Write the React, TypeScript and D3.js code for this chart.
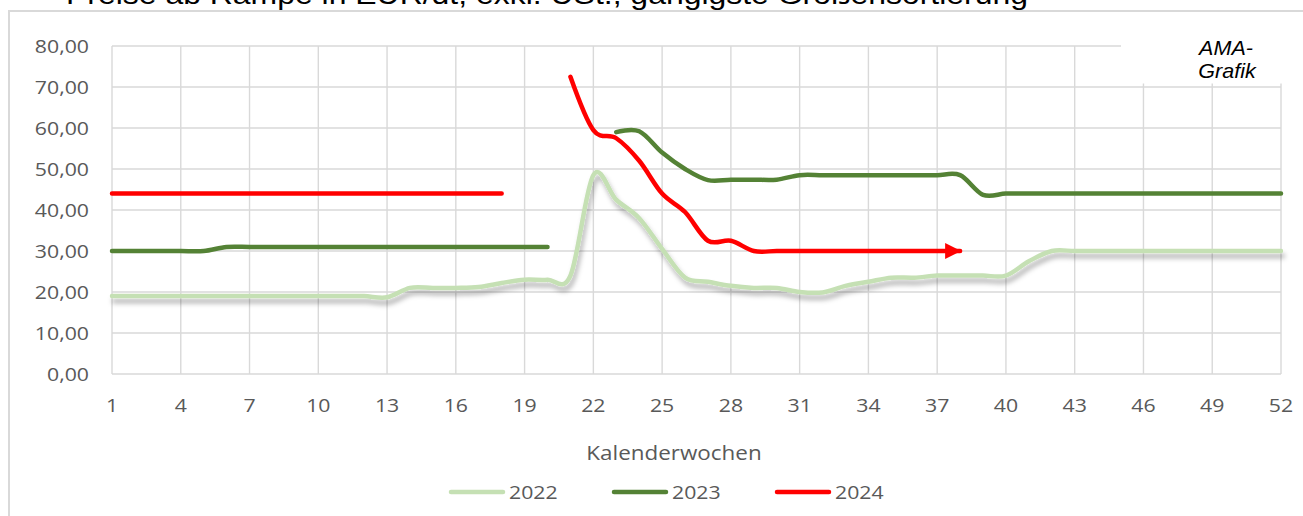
import React from "react";
import * as d3 from "d3";

// Kalenderwochen 1..52
const weeks = Array.from({ length: 52 }, (_, i) => i + 1);

const values2022: (number | null)[] = [
  19, 19, 19, 19, 19, 19, 19, 19, 19, 19, 19, 19, 18.7, 21, 21, 21, 21.2, 22.2,
  23, 23, 24, 48.5, 42.5, 38, 30.5, 23.5, 22.5, 21.5, 21, 21, 20, 19.9, 21.5,
  22.5, 23.5, 23.5, 24, 24, 24, 24, 27.5, 30, 30, 30, 30, 30, 30, 30, 30, 30, 30,
  30,
];

const values2023: (number | null)[] = [
  30, 30, 30, 30, 30, 31, 31, 31, 31, 31, 31, 31, 31, 31, 31, 31, 31, 31, 31, 31,
  null, null, 59, 59.2, 54, 50, 47.3, 47.4, 47.4, 47.4, 48.5, 48.5, 48.5, 48.5,
  48.5, 48.5, 48.5, 48.5, 43.7, 44, 44, 44, 44, 44, 44, 44, 44, 44, 44, 44, 44,
  44,
];

const values2024: (number | null)[] = [
  44, 44, 44, 44, 44, 44, 44, 44, 44, 44, 44, 44, 44, 44, 44, 44, 44, 44, null,
  null, 72.5, 59.5, 57.5, 52, 44, 39.5, 32.5, 32.5, 30, 30, 30, 30, 30, 30, 30,
  30, 30, 30, null, null, null, null, null, null, null, null, null, null, null,
  null, null, null,
];

const seriesNames = ["2022", "2023", "2024"];
const seriesColors = ["#C5E0B4", "#548235", "#FF0000"];
const xTickWeeks = [1, 4, 7, 10, 13, 16, 19, 22, 25, 28, 31, 34, 37, 40, 43, 46, 49, 52];
const yTickValues = [0, 10, 20, 30, 40, 50, 60, 70, 80];

const title = "Preise ab Rampe in EUR/dt, exkl. USt., gängigste Größensortierung";
const xTitle = "Kalenderwochen";

const W = 1303;
const H = 516;
const sx = 1.15; // the source picture is stretched horizontally

const Txt = ({ x, y, anchor = "start", size = 18.5, fill = "#595959", children }: any) => (
  <text
    transform={`translate(${x},${y}) scale(${sx},1)`}
    textAnchor={anchor}
    fontSize={size}
    fontFamily="'Open Sans', sans-serif"
    fill={fill}
  >
    {children}
  </text>
);

export default function App() {
  const x = d3.scaleLinear().domain([1, 52]).range([112, 1281]);
  const y = d3.scaleLinear().domain([0, 80]).range([374, 46]);
  const fmt = d3.formatLocale({ decimal: ",", thousands: ".", grouping: [3], currency: ["", "€"] }).format(".2f");

  const line = d3
    .line<number | null>()
    .defined((d) => d !== null)
    .x((_, i) => x(weeks[i]))
    .y((d) => y(d as number))
    .curve(d3.curveCardinal.tension(0));

  const all = [values2022, values2023, values2024];
  const legendX = [451, 614, 777];

  return (
    <svg width={W} height={H} style={{ position: "absolute", left: 0, top: 0, background: "#fff" }}>
      <defs>
        <filter id="shadow" x="-5%" y="-20%" width="110%" height="150%">
          <feDropShadow dx="2" dy="5" stdDeviation="2.5" floodColor="#000" floodOpacity="0.3" />
        </filter>
        <marker
          id="arrow"
          markerUnits="userSpaceOnUse"
          markerWidth="17"
          markerHeight="17"
          refX="15"
          refY="8"
          orient="auto"
        >
          <path d="M0,0 L16,8 L0,16 Z" fill="#FF0000" />
        </marker>
      </defs>

      {/* title, mostly cut off at the top like in the source */}
      <text
        x={66}
        y={4}
        fontSize={27}
        fontFamily="'Liberation Sans', Arial, sans-serif"
        fill="#000"
        textLength={962}
        lengthAdjust="spacingAndGlyphs"
      >
        {title}
      </text>

      {/* chart frame */}
      <path d={`M9,${H} L9,11 L${W},11`} fill="none" stroke="#D9D9D9" strokeWidth={2} />

      {/* grid */}
      <g stroke="#D9D9D9" strokeWidth={1.4}>
        {yTickValues.map((v) => (
          <line key={"h" + v} x1={x(1)} x2={x(52)} y1={y(v)} y2={y(v)} />
        ))}
        {xTickWeeks.map((w) => (
          <line key={"v" + w} x1={x(w)} x2={x(w)} y1={y(80)} y2={y(0)} />
        ))}
      </g>

      {/* AMA-Grafik text box */}
      <rect x={1121} y={38} width={175} height={45.5} fill="#fff" />
      <g fontFamily="'Liberation Sans', Arial, sans-serif" fontStyle="italic" fontSize={20.5} fill="#000" textAnchor="middle">
        <text transform={`translate(1226,55) scale(1.05,1)`}>AMA-</text>
        <text transform={`translate(1227,78) scale(1.05,1)`}>Grafik</text>
      </g>

      {/* y tick labels */}
      {yTickValues.map((v) => (
        <Txt key={"yl" + v} x={89} y={y(v) + 6.6} anchor="end">
          {fmt(v)}
        </Txt>
      ))}

      {/* x tick labels */}
      {xTickWeeks.map((w) => (
        <Txt key={"xl" + w} x={x(w)} y={411.5} anchor="middle">
          {w}
        </Txt>
      ))}

      <Txt x={674} y={460} anchor="middle" size={19.5}>
        {xTitle}
      </Txt>

      {/* series */}
      <path d={line(values2022) || ""} fill="none" stroke={seriesColors[0]} strokeWidth={4.5} strokeLinecap="round" strokeLinejoin="round" filter="url(#shadow)" />
      <path d={line(values2023) || ""} fill="none" stroke={seriesColors[1]} strokeWidth={4.5} strokeLinecap="round" strokeLinejoin="round" />
      <path d={line(values2024) || ""} fill="none" stroke={seriesColors[2]} strokeWidth={4.5} strokeLinecap="round" strokeLinejoin="round" markerEnd="url(#arrow)" />

      {/* legend */}
      {all.map((_, i) => (
        <g key={"lg" + i}>
          <line x1={legendX[i]} x2={legendX[i] + 52} y1={492} y2={492} stroke={seriesColors[i]} strokeWidth={4.5} strokeLinecap="round" />
          <Txt x={legendX[i] + 58} y={498.5}>
            {seriesNames[i]}
          </Txt>
        </g>
      ))}
    </svg>
  );
}
